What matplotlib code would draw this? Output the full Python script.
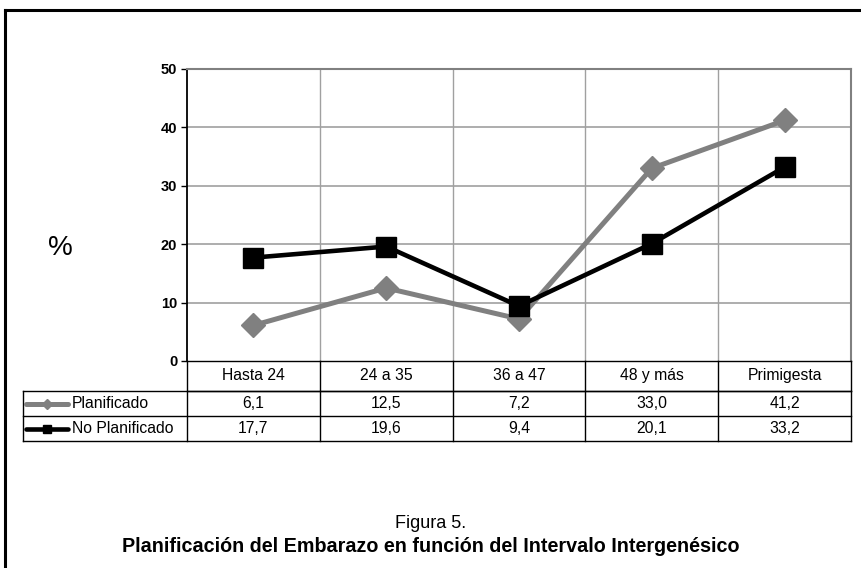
import matplotlib.pyplot as plt
from matplotlib.lines import Line2D
import numpy as np

plt.rcParams['font.family'] = ['Liberation Sans', 'DejaVu Sans']

# data
categorias = ["Hasta 24", "24 a 35", "36 a 47", "48 y más", "Primigesta"]
planificado = [6.1, 12.5, 7.2, 33.0, 41.2]
no_planificado = [17.7, 19.6, 9.4, 20.1, 33.2]
etiquetas = ["6,1", "12,5", "7,2", "33,0", "41,2"]
etiquetas_no = ["17,7", "19,6", "9,4", "20,1", "33,2"]

W, H = 862, 568
fig = plt.figure(figsize=(W / 100, H / 100), dpi=100)

def box(l, t, r, b):
    # pixel box -> figure fraction
    return [l / W, 1 - b / H, (r - l) / W, (b - t) / H]

# outer frame (only top and left visible)
fig.add_artist(Line2D([5 / W, 1], [1 - 10 / H, 1 - 10 / H], color="black", lw=2.2))
fig.add_artist(Line2D([5 / W, 5 / W], [0, 1 - 10 / H], color="black", lw=2.2))

# ---- line chart ----
ax = fig.add_axes(box(187, 69, 851, 361))
x = np.arange(len(categorias))
ax.plot(x, planificado, color="#808080", lw=3.6, marker="D", ms=12, zorder=3)
ax.plot(x, no_planificado, color="black", lw=3.3, marker="s", ms=14.5, zorder=4)
ax.set_xlim(-0.5, len(categorias) - 0.5)
ax.set_ylim(0, 50)
ax.set_yticks([0, 10, 20, 30, 40, 50])
ax.set_xticks([])
for yv in [10, 20, 30, 40]:
    ax.axhline(yv, color="#a0a0a0", lw=1.2, zorder=1)
for xv in np.arange(0.5, len(categorias) - 0.5):
    ax.axvline(xv, color="#a0a0a0", lw=1.0, zorder=1)
for s in ["top", "right"]:
    ax.spines[s].set_color("#808080")
    ax.spines[s].set_linewidth(1.5)
ax.spines["left"].set_linewidth(1.3)
ax.spines["bottom"].set_linewidth(1.0)
ax.tick_params(axis="y", length=4, width=1, pad=3, labelsize=10.5)
for t in ax.get_yticklabels():
    t.set_fontweight("bold")

fig.text(60 / W, 1 - 248 / H, "%", fontsize=20, ha="center", va="center")

# ---- data table under the chart ----
tx = fig.add_axes(box(23, 361, 851, 441))
tx.set_xlim(-0.5 - 164 / 132.8, len(categorias) - 0.5)
tx.set_ylim(441, 361)
tx.axis("off")
xl = -0.5 - 164 / 132.8
filas = [361, 391, 416, 441]
fs = 11.3
lk = dict(color="black", lw=1.0, clip_on=False)
tx.plot([-0.5, len(categorias) - 0.5], [filas[1]] * 2, **lk)
for xv in np.arange(-0.5, len(categorias)):
    tx.plot([xv, xv], [filas[0], filas[-1]], **lk)
tx.plot([xl, xl], [filas[1], filas[-1]], **lk)
for yv in filas[1:]:
    tx.plot([xl, len(categorias) - 0.5], [yv, yv], **lk)
for i, c in enumerate(categorias):
    tx.text(i, (filas[0] + filas[1]) / 2, c, ha="center", va="center", fontsize=fs)
    tx.text(i, (filas[1] + filas[2]) / 2, etiquetas[i], ha="center", va="center", fontsize=fs)
    tx.text(i, (filas[2] + filas[3]) / 2, etiquetas_no[i], ha="center", va="center", fontsize=fs)

# legend keys inside the row label cells
for fila, col, lw, mk, ms, nombre in [(1, "#808080", 3.6, "D", 5, "Planificado"),
                                       (2, "black", 3.3, "s", 6, "No Planificado")]:
    ym = (filas[fila] + filas[fila + 1]) / 2
    tx.plot([xl + 0.02, xl + 0.34], [ym, ym], color=col, lw=lw,
            solid_capstyle="round", clip_on=False)
    tx.plot([xl + 0.18], [ym], color=col, marker=mk, ms=ms, clip_on=False)
    tx.text(xl + 0.37, ym, nombre, ha="left", va="center", fontsize=fs)

# caption
fig.text(431 / W, 1 - 524 / H, "Figura 5.", ha="center", va="center", fontsize=13)
fig.text(431 / W, 1 - 546 / H,
         "Planificación del Embarazo en función del Intervalo Intergenésico",
         ha="center", va="center", fontsize=14.2, fontweight="bold")

fig.savefig("out.png", dpi=100)
